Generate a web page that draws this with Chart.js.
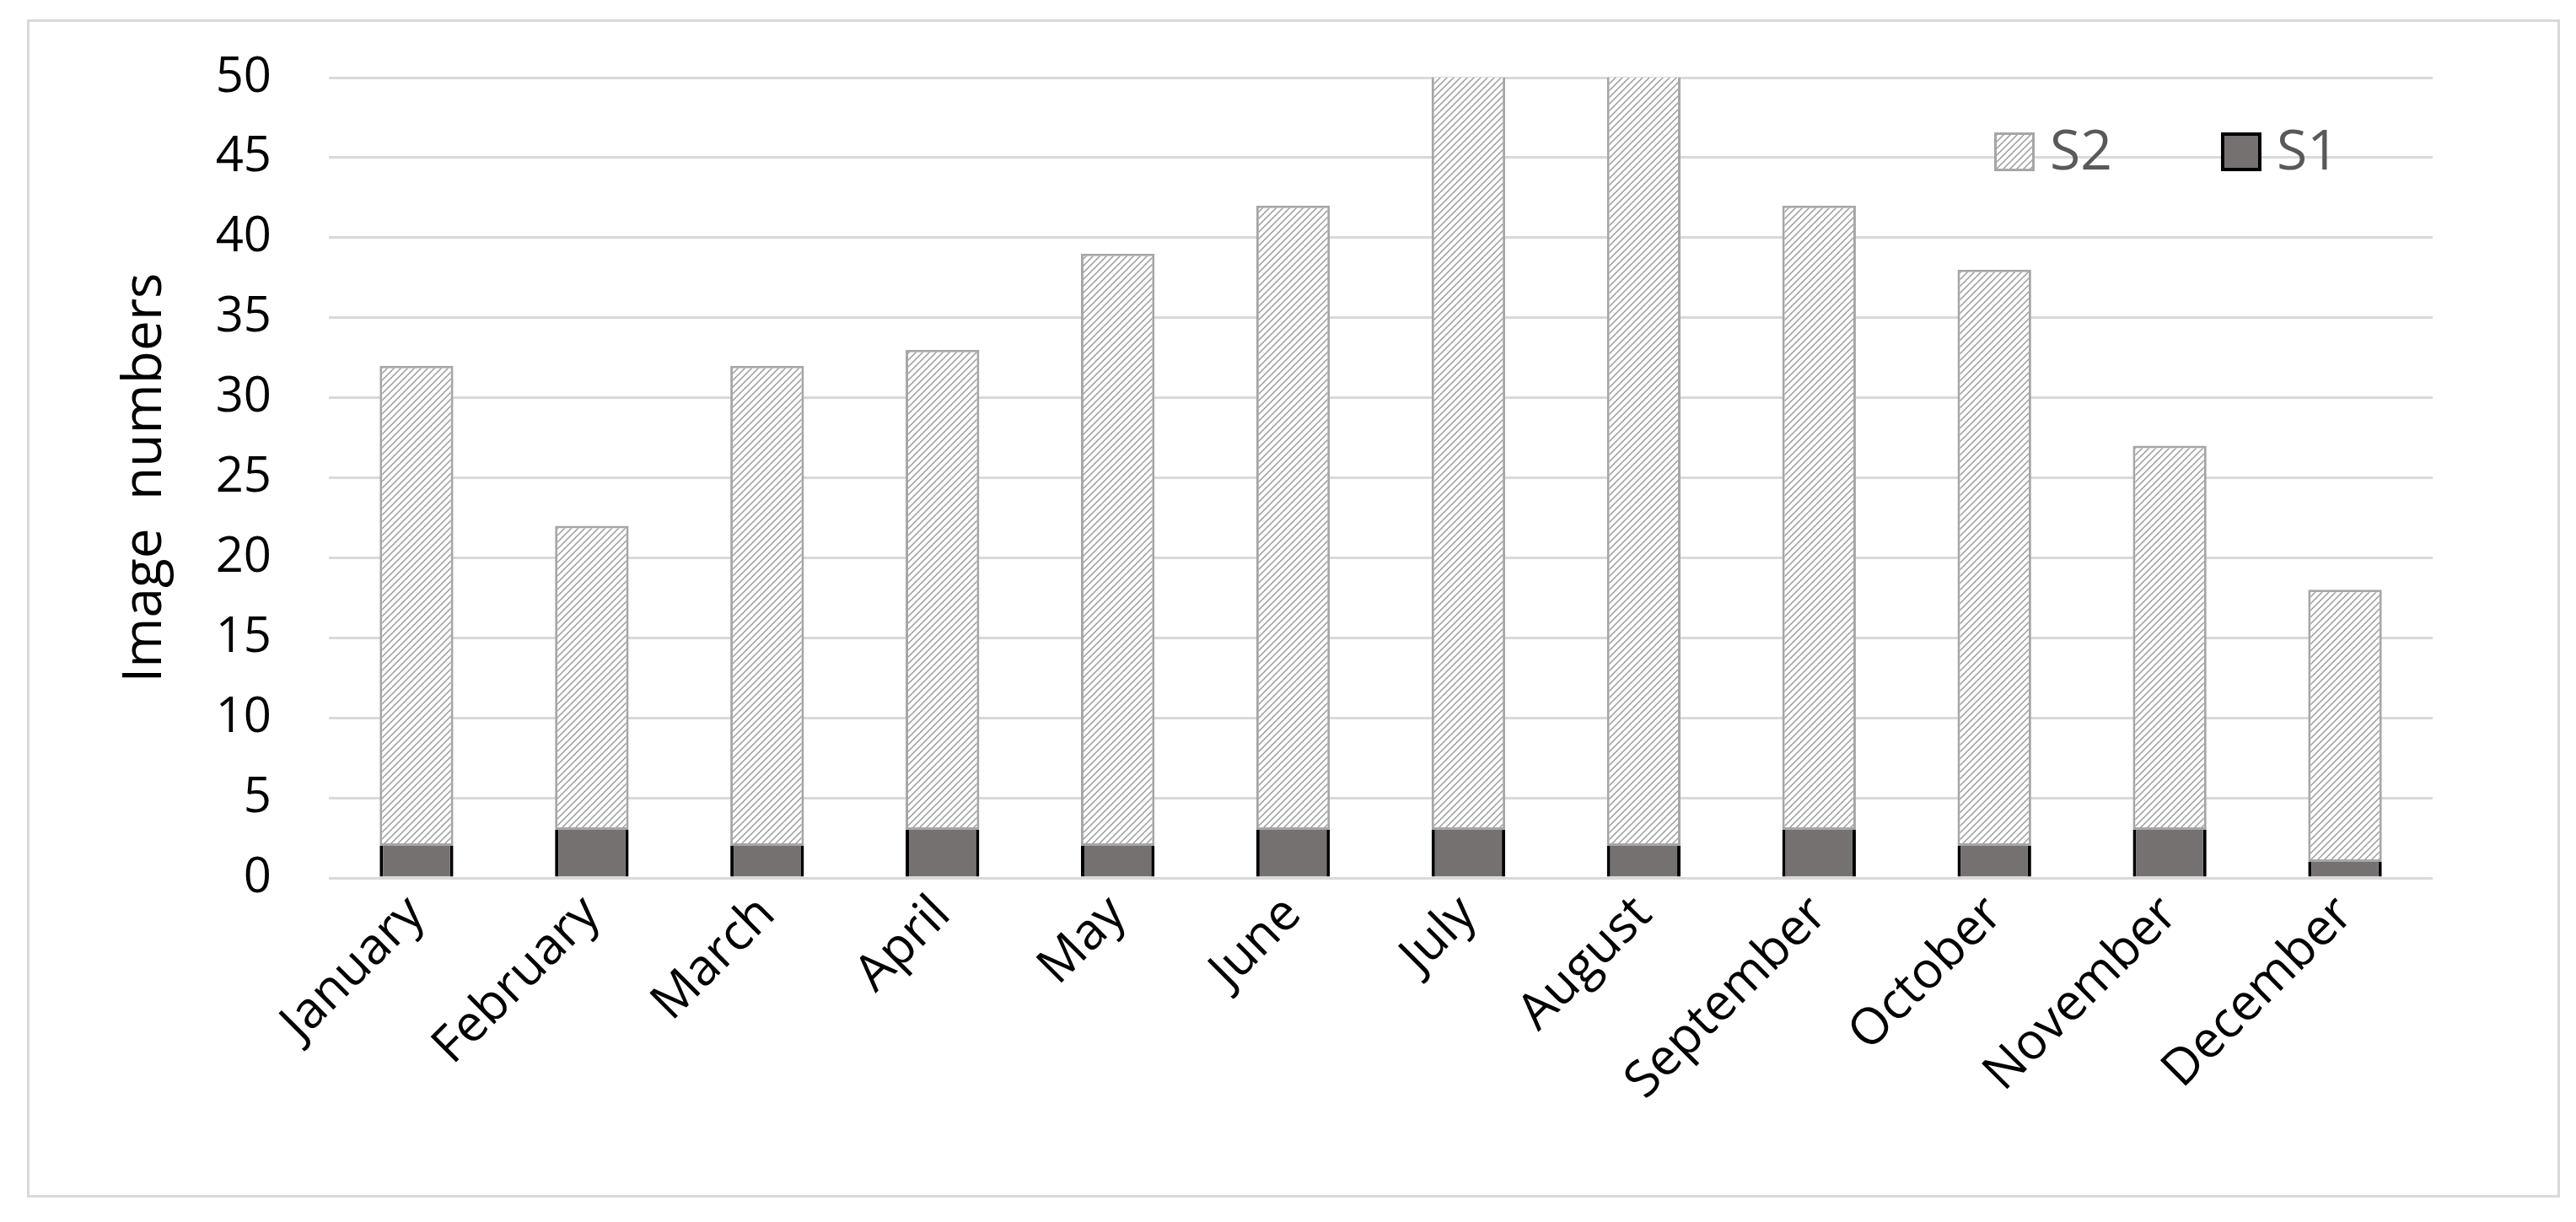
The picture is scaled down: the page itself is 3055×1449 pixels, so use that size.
<!DOCTYPE html>
<html>
<head>
<meta charset="utf-8">
<script src="https://cdn.jsdelivr.net/npm/chart.js@4.4.1/dist/chart.umd.min.js"></script>
<style>
  html, body { margin: 0; padding: 0; background: #fff; }
  #frame {
    position: absolute; left: 32px; top: 23px;
    width: 2998px; height: 1391px;
    border: 3px solid #d9d9d9;
  }
  #myChart { position: absolute; left: 0; top: 0; }
</style>
</head>
<body>
<div id="frame"></div>
<canvas id="myChart" width="3055" height="1449"></canvas>
<script>
// months on the x axis
var months = ['January', 'February', 'March', 'April', 'May', 'June',
  'July', 'August', 'September', 'October', 'November', 'December'];
// S1 sits at the bottom of each stack
var s1 = [2, 3, 2, 3, 2, 3, 3, 2, 3, 2, 3, 1];
// S2 stacked on top (July / August run past the 50 limit)
var s2 = [30, 19, 30, 30, 37, 39, 53, 54, 39, 36, 24, 17];
var yTicks = { min: 0, max: 50, step: 5 };

// light upward diagonal hatch like the excel pattern fill
function makeHatch() {
  var c = document.createElement('canvas');
  c.width = 8;
  c.height = 8;
  var g = c.getContext('2d');
  g.fillStyle = '#ffffff';
  g.fillRect(0, 0, 8, 8);
  g.strokeStyle = '#9c9c9c';
  g.lineWidth = 1.5;
  g.beginPath();
  g.moveTo(0, 8); g.lineTo(8, 0);
  g.moveTo(-2, 2); g.lineTo(2, -2);
  g.moveTo(6, 10); g.lineTo(10, 6);
  g.stroke();
  return g.createPattern(c, 'repeat');
}

var ctx = document.getElementById('myChart').getContext('2d');
var hatch = makeHatch();

// legend drawn inside the plot, top right, S2 first
var boxLegend = {
  id: 'boxLegend',
  afterDraw: function(chart) {
    var c = chart.ctx;
    var a = chart.chartArea;
    var items = [
      { text: 'S2', fill: hatch, stroke: '#a6a6a6', lw: 3, x: a.right - 520 },
      { text: 'S1', fill: '#767171', stroke: '#000000', lw: 4, x: a.right - 251 }
    ];
    var cy = a.top + 88;
    c.save();
    items.forEach(function(it) {
      c.fillStyle = it.fill;
      c.fillRect(it.x, cy - 23, 48, 46);
      c.strokeStyle = it.stroke;
      c.lineWidth = it.lw;
      c.strokeRect(it.x + it.lw / 2, cy - 23 + it.lw / 2, 48 - it.lw, 46 - it.lw);
      c.fillStyle = '#595959';
      c.font = '66px "Open Sans"';
      c.textBaseline = 'middle';
      c.textAlign = 'left';
      c.fillText(it.text, it.x + 66, cy + 2);
    });
    c.restore();
  }
};

var chart = new Chart(ctx, {
  type: 'bar',
  data: {
    labels: months,
    datasets: [{
      label: 'S1',
      data: s1,
      backgroundColor: '#767171',
      borderColor: '#000000',
      borderWidth: { left: 4, right: 4, top: 0, bottom: 0 },
      borderSkipped: false,
      barPercentage: 0.42,
      categoryPercentage: 1.0
    }, {
      label: 'S2',
      data: s2,
      backgroundColor: hatch,
      borderColor: '#a6a6a6',
      borderWidth: 3,
      borderSkipped: false,
      barPercentage: 0.42,
      categoryPercentage: 1.0
    }]
  },
  options: {
    responsive: false,
    animation: false,
    events: [],
    layout: { padding: { left: 100, top: 92, right: 170, bottom: 0 } },
    plugins: {
      legend: { display: false },
      tooltip: { enabled: false }
    },
    scales: {
      x: {
        stacked: true,
        grid: { display: false, drawTicks: false },
        border: { display: false },
        ticks: {
          autoSkip: false,
          maxRotation: 45,
          minRotation: 45,
          padding: 8,
          color: '#000000',
          font: { family: 'Open Sans', size: 60 }
        },
        afterFit: function(scale) { scale.height = 408; }
      },
      y: {
        stacked: true,
        min: yTicks.min,
        max: yTicks.max,
        grid: { color: '#d9d9d9', lineWidth: 3, drawTicks: false },
        border: { display: false },
        ticks: {
          stepSize: yTicks.step,
          padding: 68,
          color: '#000000',
          font: { family: 'Open Sans', size: 58 }
        },
        title: {
          display: true,
          text: 'Image  numbers',
          color: '#000000',
          font: { family: 'Open Sans', size: 64, weight: 'normal' },
          padding: { top: 34, bottom: 0 }
        },
        afterFit: function(scale) {
          scale.width = 290;
          // the big tick padding would otherwise push the plot top down
          scale.paddingTop = 0;
          scale.paddingBottom = 0;
        }
      }
    }
  },
  plugins: [boxLegend]
});
</script>
</body>
</html>
